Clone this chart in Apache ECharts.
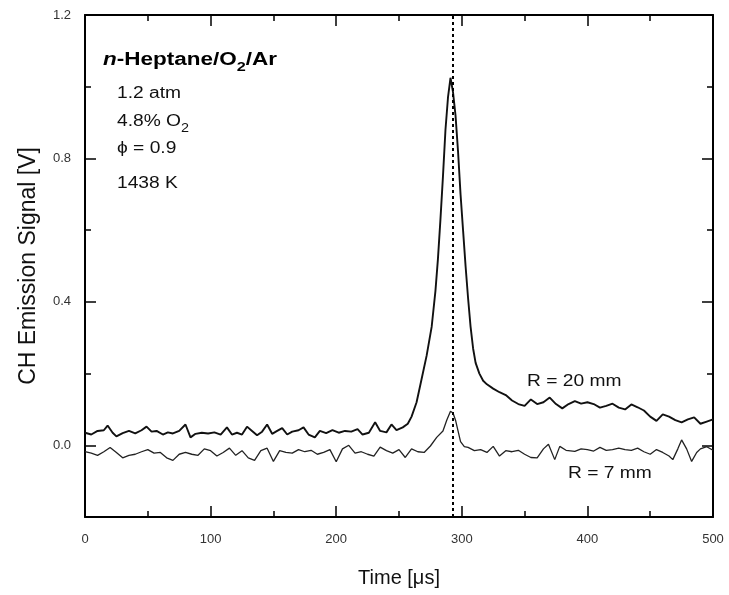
<!DOCTYPE html>
<html>
<head>
<meta charset="utf-8">
<script src="https://cdn.jsdelivr.net/npm/echarts@6/dist/echarts.min.js"></script>
<style>
  html, body { margin: 0; padding: 0; background: #fff; }
  #chart { width: 729px; height: 595px; }
</style>
</head>
<body>
<div id="chart"></div>
<script>
// R = 20 mm trace (time in microseconds, signal in V)
var T20 = [0, 5, 10, 15, 18, 22, 25, 30, 35, 40, 45, 49, 53, 57, 62, 66, 70, 75, 80, 84, 88, 93, 98, 103, 108, 113, 117, 121, 125, 129, 133, 137, 141, 145, 149, 153, 157, 161, 165, 170, 174, 178, 183, 187, 192, 197, 202, 207, 212, 217, 221, 226, 231, 235, 240, 244, 248, 253, 257, 260, 264, 268, 272, 276, 279, 281, 283, 285, 287, 289, 291, 293, 295, 297, 299, 301, 303, 305, 307, 309, 311, 314, 317, 320, 325, 330, 335, 340, 345, 350, 355, 360, 365, 370, 375, 380, 385, 390, 395, 400, 405, 410, 415, 420, 425, 430, 435, 440, 445, 450, 455, 460, 465, 470, 475, 480, 485, 490, 495, 500];
var V20 = [0.035, 0.03, 0.04, 0.042, 0.055, 0.035, 0.025, 0.034, 0.04, 0.033, 0.042, 0.052, 0.038, 0.04, 0.03, 0.036, 0.033, 0.04, 0.058, 0.022, 0.032, 0.035, 0.033, 0.036, 0.03, 0.05, 0.03, 0.035, 0.03, 0.052, 0.04, 0.028, 0.038, 0.058, 0.032, 0.04, 0.048, 0.03, 0.038, 0.042, 0.05, 0.03, 0.022, 0.04, 0.034, 0.042, 0.035, 0.04, 0.038, 0.045, 0.03, 0.035, 0.064, 0.04, 0.036, 0.058, 0.042, 0.05, 0.06, 0.08, 0.12, 0.185, 0.25, 0.33, 0.43, 0.52, 0.63, 0.75, 0.88, 0.97, 1.025, 0.985, 0.92, 0.82, 0.7, 0.6, 0.5, 0.41, 0.33, 0.27, 0.23, 0.2, 0.18, 0.17, 0.158, 0.148, 0.14, 0.125, 0.115, 0.11, 0.128, 0.115, 0.12, 0.133, 0.115, 0.103, 0.115, 0.123, 0.116, 0.12, 0.115, 0.105, 0.11, 0.116, 0.105, 0.1, 0.114, 0.106, 0.097, 0.08, 0.068, 0.086, 0.08, 0.07, 0.064, 0.072, 0.078, 0.06, 0.066, 0.072];

// R = 7 mm trace
var T7 = [0, 5, 10, 15, 20, 25, 30, 35, 40, 45, 50, 55, 60, 65, 70, 75, 80, 85, 90, 95, 100, 105, 110, 115, 120, 125, 130, 135, 140, 145, 150, 155, 160, 165, 170, 175, 180, 185, 190, 195, 200, 205, 210, 215, 220, 225, 230, 235, 240, 245, 250, 255, 260, 265, 270, 275, 280, 285, 288, 291, 293, 295, 297, 299, 302, 305, 310, 315, 320, 325, 330, 335, 340, 345, 350, 355, 360, 365, 369, 374, 378, 383, 390, 395, 400, 405, 410, 415, 420, 425, 430, 435, 440, 445, 450, 455, 460, 465, 468, 472, 475, 479, 483, 487, 490, 495, 500];
var V7 = [-0.018, -0.022, -0.028, -0.018, -0.006, -0.02, -0.035, -0.028, -0.025, -0.018, -0.012, -0.022, -0.02, -0.035, -0.042, -0.025, -0.02, -0.025, -0.028, -0.01, -0.015, -0.03, -0.02, -0.008, -0.028, -0.015, -0.035, -0.042, -0.015, -0.008, -0.045, -0.015, -0.02, -0.022, -0.012, -0.018, -0.014, -0.025, -0.02, -0.012, -0.046, -0.01, 0.0, -0.022, -0.018, -0.025, -0.03, -0.005, -0.015, -0.022, -0.012, -0.034, -0.01, -0.018, -0.02, -0.002, 0.022, 0.04, 0.07, 0.095, 0.09, 0.07, 0.04, 0.01, -0.004, -0.006, -0.015, -0.012, -0.02, -0.003, -0.03, -0.015, -0.018, -0.014, -0.025, -0.034, -0.035, -0.01, 0.003, -0.04, -0.003, -0.014, -0.017, -0.01, -0.012, -0.016, -0.006, -0.014, -0.012, -0.008, -0.012, -0.014, -0.008, -0.018, -0.025, -0.012, -0.02, -0.03, -0.04, -0.01, 0.015, -0.01, -0.045, -0.02, -0.01, -0.004, -0.014];

var X_MIN = 0, X_MAX = 500, X_STEP = 100;
var Y_MIN = -0.2, Y_MAX = 1.2, Y_STEP = 0.2;
var Y_LABELS = [0.0, 0.4, 0.8, 1.2];
var PEAK_T = 293;

var SERIES_NAMES = ['R = 20 mm', 'R = 7 mm'];
var NOTES = ['1.2 atm', '4.8% O', '\u03D5 = 0.9', '1438 K'];

function zip(t, v) {
  var out = [];
  for (var i = 0; i < t.length; i++) out.push([t[i], v[i]]);
  return out;
}

var FONT = '"Liberation Sans", Arial, sans-serif';
var STRETCH = 1.2;   // the source lettering is drawn a bit wide
var chart = echarts.init(document.getElementById('chart'));

var axisLine = { show: true, onZero: false, lineStyle: { color: '#000', width: 2 } };
var majorTick = { show: true, inside: true, length: 11, lineStyle: { color: '#000', width: 1.5 } };
var minorTick = { show: true, inside: true, length: 6, lineStyle: { color: '#000', width: 1.5 } };

function txt(x, y, text, size, extra, sx) {
  var style = { text: text, fontFamily: FONT, fontSize: size, fill: '#111', align: 'left', verticalAlign: 'middle' };
  for (var k in extra) style[k] = extra[k];
  return { type: 'text', x: x, y: y, scaleX: sx || STRETCH, style: style, z: 10 };
}

var graphics = [
  txt(103, 60, '{i|n}{b|-Heptane/O}{s|2}{b|/Ar}', 18, {
    rich: {
      i: { fontFamily: FONT, fontSize: 18, fontWeight: 'bold', fontStyle: 'italic', fill: '#000' },
      b: { fontFamily: FONT, fontSize: 18, fontWeight: 'bold', fill: '#000' },
      s: { fontFamily: FONT, fontSize: 13, fontWeight: 'bold', fill: '#000', padding: [15, 0, 0, 0] }
    }
  }, 1.25),
  txt(117, 94, NOTES[0], 16),
  txt(117, 122, '{n|' + NOTES[1] + '}{s|2}', 16, {
    rich: {
      n: { fontFamily: FONT, fontSize: 16, fill: '#111' },
      s: { fontFamily: FONT, fontSize: 12, fill: '#111', padding: [13, 0, 0, 0] }
    }
  }),
  txt(117, 149, NOTES[2], 16),
  txt(117, 184, NOTES[3], 16),
  txt(527, 382, SERIES_NAMES[0], 16),
  txt(568, 474, SERIES_NAMES[1], 16)
];

function xAxisDef(pos, withLabels) {
  return {
    type: 'value', position: pos, min: X_MIN, max: X_MAX, interval: X_STEP,
    name: withLabels ? 'Time [\u03BCs]' : '', nameLocation: 'middle', nameGap: 51,
    nameTextStyle: { fontFamily: FONT, fontSize: 20, color: '#111' },
    axisLine: axisLine, axisTick: majorTick,
    minorTick: { show: true, splitNumber: 2, length: 6, lineStyle: { color: '#000', width: 1.5 } },
    splitLine: { show: false }, minorSplitLine: { show: false },
    axisLabel: { show: withLabels, margin: 16, fontFamily: FONT, fontSize: 13, color: '#333' }
  };
}

function yAxisDef(pos, withLabels) {
  return {
    type: 'value', position: pos, min: Y_MIN, max: Y_MAX, interval: Y_STEP,
    name: withLabels ? 'CH Emission Signal [V]' : '', nameLocation: 'middle', nameGap: 45, nameRotate: 90,
    nameTextStyle: { fontFamily: FONT, fontSize: 23, color: '#111' },
    axisLine: axisLine,
    axisTick: { show: true, inside: true, length: 11, customValues: Y_LABELS, lineStyle: { color: '#000', width: 1.5 } },
    splitLine: { show: false },
    axisLabel: {
      show: withLabels, customValues: Y_LABELS, margin: 14, fontFamily: FONT, fontSize: 13, color: '#333',
      formatter: function (v) { return v.toFixed(1); }
    }
  };
}

// overlay axes that only carry the short 0.2 V ticks
function yMinorDef(pos) {
  return {
    type: 'value', position: pos, min: Y_MIN, max: Y_MAX, interval: Y_STEP,
    axisLine: { show: false, onZero: false }, axisTick: minorTick,
    axisLabel: { show: false }, splitLine: { show: false }
  };
}

chart.setOption({
  animation: false,
  backgroundColor: '#fff',
  grid: { left: 85, right: 16, top: 15, bottom: 78 },
  xAxis: [xAxisDef('bottom', true), xAxisDef('top', false)],
  yAxis: [yAxisDef('left', true), yAxisDef('right', false), yMinorDef('left'), yMinorDef('right')],
  series: [
    {
      name: SERIES_NAMES[0], type: 'line', data: zip(T20, V20), showSymbol: false,
      lineStyle: { color: '#111', width: 1.9 },
      markLine: {
        symbol: 'none', silent: true, label: { show: false },
        lineStyle: { color: '#000', width: 2, type: [3, 3] },
        data: [{ xAxis: PEAK_T }]
      }
    },
    {
      name: SERIES_NAMES[1], type: 'line', data: zip(T7, V7), showSymbol: false,
      lineStyle: { color: '#222', width: 1.3 }
    }
  ],
  graphic: graphics
});
</script>
</body>
</html>
